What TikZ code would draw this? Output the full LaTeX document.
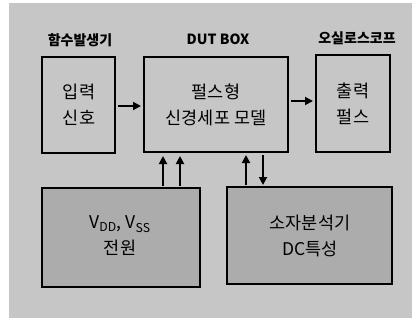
\documentclass[tikz,border=0pt]{standalone}
\usepackage{fontspec}
\setmainfont{Noto Sans CJK KR}
\usetikzlibrary{arrows.meta}
\begin{document}
\begin{tikzpicture}[x=1pt,y=-1pt,
  box/.style={draw=black,line width=2pt,inner sep=0pt},
  lightbox/.style={box,fill=gray!45},
  darkbox/.style={box,fill=gray!65},
  title/.style={font=\fontsize{14}{16}\selectfont\bfseries,text=black},
  body/.style={font=\fontsize{17.5}{26}\selectfont,align=center,text=black},
  arr/.style={-{Triangle[length=8pt,width=8pt]},line width=1.8pt}]
\useasboundingbox (0,0) rectangle (419,324);
\fill[white] (0,0) rectangle (419,324);
\fill[gray!45] (9,3) rectangle (412,318);
% boxes
\draw[lightbox] (42,57) rectangle (115,153);
\node[body] (in) at (79,105) {입력\\신호};
\draw[lightbox] (144,57) rectangle (288,152);
\node[body] (dut) at (216,105) {펄스형\\신경세포 모델};
\draw[lightbox] (316,55) rectangle (390,152);
\node[body] (out) at (353,104) {출력\\펄스};
\draw[darkbox] (42,188) rectangle (200,287);
\node[body] (pw) at (120,236) {V\textsubscript{DD}, V\textsubscript{SS}\\전원};
\draw[darkbox] (227,187) rectangle (392,284);
\node[body] (an) at (310,236) {소자분석기\\DC특성};
% titles
\node[title] (t1) at (80,40) {함수발생기};
\node[title] (t2) at (218,39) {DUT BOX};
\node[title] (t3) at (357,38) {오실로스코프};
% arrows
\coordinate (a1s) at (118,106); \coordinate (a1e) at (141,106);
\draw[arr] (a1s) -- (a1e);
\coordinate (a2s) at (291,101); \coordinate (a2e) at (313,101);
\draw[arr] (a2s) -- (a2e);
\coordinate (u1s) at (163,186); \coordinate (u1e) at (163,156);
\draw[arr] (u1s) -- (u1e);
\coordinate (u2s) at (180,186); \coordinate (u2e) at (180,156);
\draw[arr] (u2s) -- (u2e);
\coordinate (u3s) at (246,185); \coordinate (u3e) at (246,155);
\draw[arr] (u3s) -- (u3e);
\coordinate (d1s) at (263,155); \coordinate (d1e) at (263,185);
\draw[arr] (d1s) -- (d1e);
\end{tikzpicture}
\end{document}
